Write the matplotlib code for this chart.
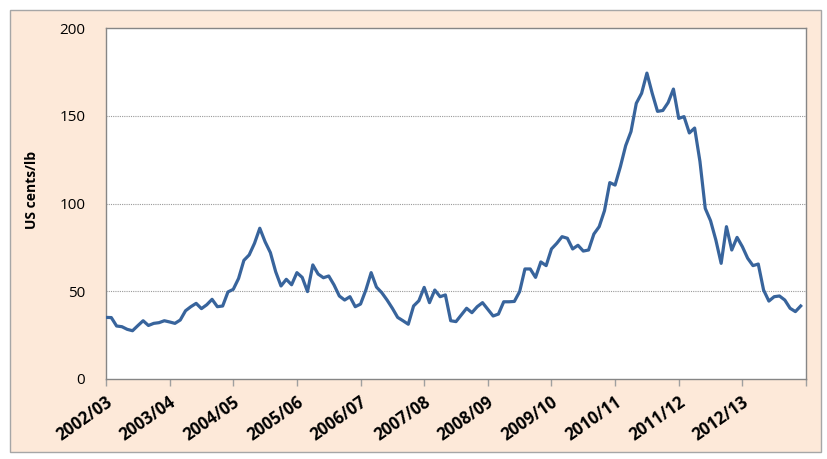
import matplotlib
matplotlib.use("Agg")
import matplotlib.pyplot as plt
from matplotlib.patches import Rectangle
import numpy as np

prices = [
    35.1, 35.0, 30.2, 29.8, 28.3, 27.5, 30.4, 33.2, 30.5, 31.7, 32.1, 33.2,
    32.5, 31.7, 33.6, 38.9, 41.2, 43.1, 40.1, 42.3, 45.4, 41.2, 41.6, 49.6,
    51.1, 57.3, 67.6, 70.7, 77.3, 85.9, 78.2, 72.0, 61.1, 53.0, 56.8, 53.7,
    60.6, 57.9, 49.8, 65.0, 59.8, 57.7, 58.7, 53.6, 47.3, 45.0, 46.9, 41.2,
    42.7, 50.7, 60.6, 52.4, 49.2, 45.0, 40.3, 35.1, 33.2, 31.2, 41.6, 44.6,
    52.2, 43.5, 50.7, 46.9, 47.9, 33.2, 32.7, 36.5, 40.3, 37.8, 41.2, 43.5,
    39.7, 35.9, 37.0, 44.0, 44.0, 44.2, 49.8, 62.7, 62.7, 57.9, 66.7, 64.6,
    74.1, 77.3, 81.1, 80.2, 74.1, 76.2, 72.9, 73.5, 82.6, 86.8, 95.9, 111.9,
    110.5, 121.0, 133.0, 141.0, 157.1, 162.8, 174.3, 162.8, 152.5, 153.0, 157.5, 165.2,
    148.5, 149.5, 140.2, 143.0, 124.0, 97.2, 90.2, 79.2, 65.9, 86.8, 73.5, 80.7,
    75.4, 68.8, 64.6, 65.5, 50.7, 44.4, 46.9, 47.3, 45.0, 40.3, 38.4, 41.6,
]
seasons = ["2002/03", "2003/04", "2004/05", "2005/06", "2006/07", "2007/08",
           "2008/09", "2009/10", "2010/11", "2011/12", "2012/13"]
y_ticks = [0, 50, 100, 150, 200]
y_label = "US cents/lb"

plt.rcParams['font.family'] = ['Open Sans', 'DejaVu Sans']

W, H = 828, 459
fig = plt.figure(figsize=(W / 100, H / 100), dpi=100, facecolor='white')
fig.patches.append(Rectangle((10 / W, (H - 452) / H), 811 / W, 442 / H,
                             transform=fig.transFigure, facecolor='#FDE9D9',
                             edgecolor='#A6A6A6', linewidth=1, zorder=-5))

ax = fig.add_axes([106 / W, (H - 379) / H, 700 / W, 351 / H])
ax.set_facecolor('white')

months = np.arange(len(prices))
ax.plot(months, prices, color='#38649C', linewidth=2.3, solid_joinstyle='round', zorder=3)

ax.set_xlim(0, 132)
ax.set_ylim(0, 200)
ax.set_yticks(y_ticks)
ax.set_yticklabels([str(v) for v in y_ticks], fontsize=11)
ax.tick_params(axis='y', length=0, pad=15)
for v in y_ticks[1:-1]:
    ax.axhline(v, color='#9A9A9A', linewidth=0.8, linestyle=(0, (1, 1)), zorder=1)

xt = np.arange(0, 133, 12)
ax.set_xticks(xt)
ax.set_xticklabels([''] * len(xt))
ax.tick_params(axis='x', length=5, width=1, color='#A0A0A0', direction='out')
for i, s in enumerate(seasons):
    ax.annotate(s, xy=(xt[i], 0), xycoords='data', xytext=(-0.5, -10),
                textcoords='offset points', rotation=35, rotation_mode='anchor',
                ha='right', va='top', fontsize=12, fontweight='bold',
                annotation_clip=False)

for sp in ax.spines.values():
    sp.set_color('#868686')
    sp.set_linewidth(1)

fig.text(32 / W, (H - 190) / H, y_label, rotation=90, ha='center', va='center',
         fontsize=10, fontweight='bold')

fig.savefig('out.png', dpi=100, facecolor='white')
